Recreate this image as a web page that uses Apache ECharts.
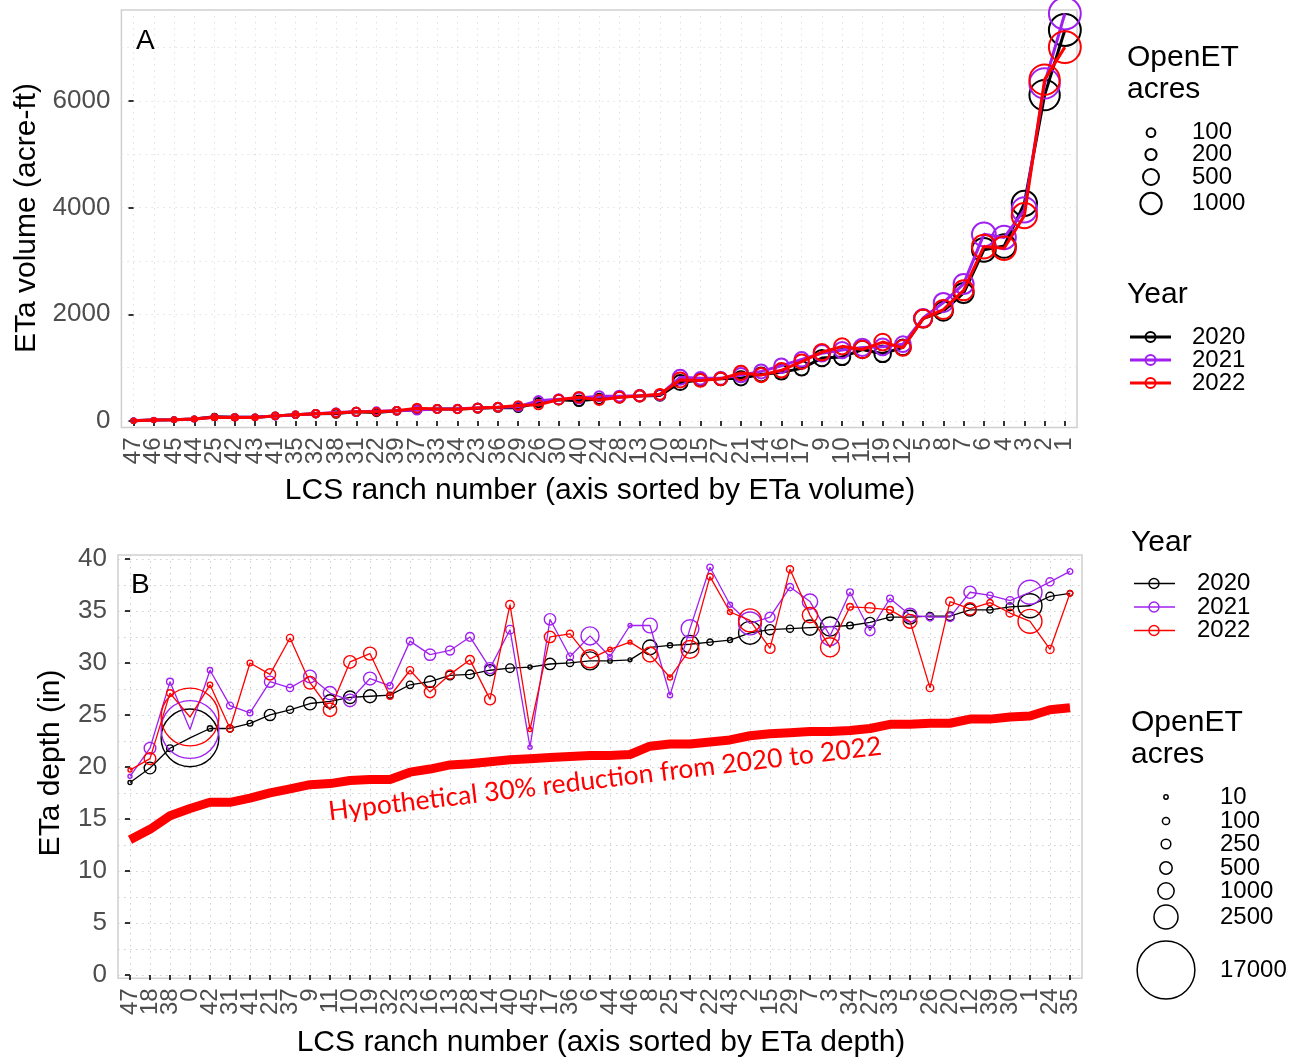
<!DOCTYPE html>
<html><head><meta charset="utf-8">
<script src="https://cdn.jsdelivr.net/npm/echarts@6/dist/echarts.min.js"></script>
<style>html,body{margin:0;padding:0;background:#fff}#c{width:1302px;height:1059px}</style>
</head><body><div id="c"></div>
<script>
// ---------------- data ----------------
const years = ['2020', '2021', '2022'];
const yearColors = ['#000000', '#A020F0', '#FF0000'];

// Panel A: ranches sorted by ETa volume
const catsA = [47,46,45,44,25,42,43,41,35,32,38,31,22,39,37,33,34,23,36,29,26,30,40,24,28,13,20,18,15,27,21,14,16,17,9,10,11,19,12,5,8,7,6,4,3,2,1];
const volA2020 = [6,17,25,37,80,68,68,94,119,137,140,172,160,190,212,225,225,240,255,250,345,400,380,415,450,470,480,720,770,790,800,870,912,987,1180,1200,1340,1260,1380,1920,2060,2400,3210,3280,4080,6110,7330];
const volA2021 = [8,19,25,37,70,70,68,92,119,137,160,172,185,192,205,225,228,245,260,268,380,410,430,465,465,475,490,820,800,800,860,930,1037,1156,1270,1330,1380,1390,1440,1930,2220,2570,3500,3440,3960,6330,7640];
const volA2022 = [6,18,25,38,72,66,66,96,119,137,150,175,172,192,240,225,222,242,258,290,305,400,445,395,445,470,500,770,760,790,900,860,950,1112,1290,1400,1340,1480,1370,1920,2090,2450,3270,3240,3850,6400,7010];

// Panel B: ranches sorted by ETa depth
const catsB = [47,18,38,0,42,31,41,21,37,9,11,10,19,32,23,16,13,28,14,40,45,17,36,6,44,46,8,25,4,22,43,2,15,29,7,3,34,27,33,5,26,20,12,39,30,1,24,35];
const depB2020 = [18.5,19.9,21.8,22.8,23.7,23.7,24.2,25.0,25.5,26.1,26.3,26.7,26.8,26.9,27.9,28.2,28.8,28.9,29.3,29.5,29.6,29.9,30.0,30.2,30.2,30.3,31.5,31.7,31.8,32.0,32.2,32.9,33.2,33.3,33.4,33.5,33.6,33.9,34.4,34.4,34.5,34.5,35.1,35.1,35.4,35.5,36.4,36.7];
const depB2021 = [19.1,21.8,28.2,23.6,29.3,25.9,25.2,28.2,27.6,28.7,27.1,26.4,28.5,27.8,32.1,30.8,31.2,32.5,29.5,33.2,21.9,34.2,30.6,32.6,30.6,33.6,33.6,26.9,33.3,39.2,35.6,33.8,34.4,37.3,35.9,32.6,36.8,33.1,36.2,34.6,34.4,34.4,36.8,36.5,36.0,36.8,37.8,38.8];
const depB2022 = [19.7,20.8,27.1,24.8,27.9,23.7,30.0,28.9,32.4,28.1,25.5,30.1,30.9,26.8,29.3,27.2,28.9,30.3,26.5,35.6,23.6,32.5,32.8,30.4,31.3,32.0,30.8,28.6,31.3,38.3,34.9,34.1,31.4,39.0,34.6,31.5,35.4,35.3,35.1,34.0,27.6,35.9,35.2,35.8,34.8,34.0,31.3,36.7];
const hypB = [13.0,14.0,15.3,16.0,16.6,16.6,17.0,17.5,17.9,18.3,18.4,18.7,18.8,18.8,19.5,19.8,20.2,20.3,20.5,20.7,20.8,20.9,21.0,21.1,21.1,21.2,22.0,22.2,22.2,22.4,22.6,23.0,23.2,23.3,23.4,23.4,23.5,23.7,24.1,24.1,24.2,24.2,24.6,24.6,24.8,24.9,25.5,25.7];

// OpenET acres by ranch number (index = ranch number 0..47)
const acres = [17000,2480,2230,1470,1240,670,1280,860,780,530,520,610,480,200,360,280,395,395,425,555,175,380,64,105,150,25,115,285,190,95,135,86,58,77,79,37,98,100,83,64,175,43,31,23,12,8,5,6];

// axis ticks / legend breaks
const yTicksA = [0, 2000, 4000, 6000];
const yGridA = [0, 1000, 2000, 3000, 4000, 5000, 6000, 7000];
const yTicksB = [0, 5, 10, 15, 20, 25, 30, 35, 40];
const yGridB = [0, 2.5, 5, 7.5, 10, 12.5, 15, 17.5, 20, 22.5, 25, 27.5, 30, 32.5, 35, 37.5, 40];
const sizeBreaksA = [100, 200, 500, 1000];
const sizeBreaksB = [10, 100, 250, 500, 1000, 2500, 17000];

// ---------------- chart ----------------
const FONT = "'Liberation Sans', Arial, sans-serif";
const TICKCOL = '#4d4d4d';
function sizeA(a) { return 3 + 0.58 * Math.sqrt(a); }
function sizeB(a) { return 3 + 0.42 * Math.sqrt(a); }

const idxA = catsA.map((_, i) => i);
const idxB = catsB.map((_, i) => i);
const volA = [volA2020, volA2021, volA2022];
const depB = [depB2020, depB2021, depB2022];

// Labels are split over two coincident axes (even / odd positions) so that
// ECharts' min/max overlap rule does not drop any of the densely packed labels.
function xAxisFor(gridIndex, cats, idx, parity, primary) {
  const labIdx = idx.filter(i => i % 2 === parity);
  return {
    type: 'value', gridIndex: gridIndex, min: -0.6, max: cats.length - 0.4, position: 'bottom',
    axisLine: { show: false },
    axisTick: { show: primary, customValues: primary ? idx : labIdx, length: 5, lineStyle: { color: '#333', width: 2 } },
    axisLabel: { customValues: labIdx, rotate: 90, margin: 10, fontSize: 24, color: TICKCOL, fontFamily: FONT,
      showMinLabel: true, showMaxLabel: true, hideOverlap: false,
      formatter: v => String(cats[Math.round(v)]) },
    splitLine: { show: primary, lineStyle: { color: gridIndex === 0 ? '#e2e2e2' : '#cfcfcf', width: 1, type: [1.5, 4.5] } }
  };
}
function yMain(gridIndex, min, max, ticks) {
  return {
    type: 'value', gridIndex: gridIndex, min: min, max: max, position: 'left',
    axisLine: { show: false },
    axisTick: { show: true, customValues: ticks, length: 5, lineStyle: { color: '#333', width: 2 } },
    axisLabel: { customValues: ticks, margin: 11, fontSize: 26, color: TICKCOL, fontFamily: FONT,
      showMinLabel: true, showMaxLabel: true,
      formatter: v => String(v) },
    splitLine: { show: false }
  };
}
function yGrid(gridIndex, min, max, vals, col) {
  return {
    type: 'value', gridIndex: gridIndex, min: min, max: max, position: 'right',
    axisLine: { show: false },
    axisTick: { show: false, customValues: vals },
    axisLabel: { show: false, customValues: vals },
    splitLine: { show: true, lineStyle: { color: col, width: 1, type: [1.5, 4.5] } }
  };
}

const series = [];
years.forEach((y, k) => {
  series.push({
    name: 'A' + y, type: 'line', xAxisIndex: 0, yAxisIndex: 0,
    data: volA[k].map((v, i) => [i, v]),
    symbol: 'circle',
    symbolSize: val => sizeA(acres[catsA[val[0]]]),
    lineStyle: { color: yearColors[k], width: 3 },
    itemStyle: { color: 'rgba(0,0,0,0)', borderColor: yearColors[k], borderWidth: 2 },
    z: 3 + k, clip: false, animation: false, emphasis: { disabled: true }
  });
});
series.push({
  name: 'hyp', type: 'line', xAxisIndex: 2, yAxisIndex: 2,
  data: hypB.map((v, i) => [i, v]), symbol: 'none',
  lineStyle: { color: '#FF0000', width: 9 }, z: 2, animation: false, emphasis: { disabled: true }
});
years.forEach((y, k) => {
  series.push({
    name: 'B' + y, type: 'line', xAxisIndex: 2, yAxisIndex: 2,
    data: depB[k].map((v, i) => [i, v]),
    symbol: 'circle',
    symbolSize: val => sizeB(acres[catsB[val[0]]]),
    lineStyle: { color: yearColors[k], width: 1.3 },
    itemStyle: { color: 'rgba(0,0,0,0)', borderColor: yearColors[k], borderWidth: 1.4 },
    z: 3 + k, clip: false, animation: false, emphasis: { disabled: true }
  });
});

// ---------- graphic: titles, labels, legends ----------
const g = [];
function txt(x, y, s, size, opts) {
  opts = opts || {};
  g.push({ type: 'text', x: x, y: y, rotation: opts.rot || 0, z: 100,
    style: { text: s, font: (opts.weight || 'normal') + ' ' + size + 'px ' + (opts.family || FONT),
      fill: opts.color || '#000', textAlign: opts.align || 'left', textVerticalAlign: 'middle' } });
}
function circ(cx, cy, d, col, lw) {
  g.push({ type: 'circle', z: 100, shape: { cx: cx, cy: cy, r: d / 2 },
    style: { fill: 'none', stroke: col, lineWidth: lw } });
}
function seg(x1, x2, y, col, lw) {
  g.push({ type: 'line', z: 100, shape: { x1: x1, y1: y, x2: x2, y2: y }, style: { stroke: col, lineWidth: lw } });
}

// axis titles
txt(27, 218, 'ETa volume (acre-ft)', 30, { rot: Math.PI / 2, align: 'center' });
txt(600, 491, 'LCS ranch number (axis sorted by ETa volume)', 30, { align: 'center' });
txt(51, 763, 'ETa depth (in)', 30, { rot: Math.PI / 2, align: 'center' });
txt(601, 1043, 'LCS ranch number (axis sorted by ETa depth)', 30, { align: 'center' });
// panel tags
txt(136, 41, 'A', 28);
txt(131, 585, 'B', 28);
// annotation
txt(605, 779, 'Hypothetical 30% reduction from 2020 to 2022', 26.5,
  { rot: 0.118, align: 'center', color: '#FF0000', family: "Lato, 'Open Sans', sans-serif" });

// Legend A: OpenET acres
txt(1127, 58, 'OpenET', 30);
txt(1127, 90, 'acres', 30);
const legAy = [132.7, 154.5, 177, 203.5];
sizeBreaksA.forEach((v, k) => {
  circ(1151, legAy[k], sizeA(v), '#000', 2);
  txt(1192, legAy[k], String(v), 24);
});
// Legend A: Year
txt(1127, 295, 'Year', 30);
const legAyr = [337, 360, 383];
years.forEach((y, k) => {
  seg(1130, 1171, legAyr[k], yearColors[k], 3);
  circ(1150.5, legAyr[k], 10, yearColors[k], 2);
  txt(1192, legAyr[k], y, 24);
});
// Legend B: Year
txt(1131, 543, 'Year', 30);
const legByr = [583.5, 607, 630.5];
years.forEach((y, k) => {
  seg(1134, 1175, legByr[k], yearColors[k], 1.3);
  circ(1154, legByr[k], 10, yearColors[k], 1.4);
  txt(1197, legByr[k], y, 24);
});
// Legend B: OpenET acres
txt(1131, 723, 'OpenET', 30);
txt(1131, 755, 'acres', 30);
const legBy = [797, 821, 844, 868, 891, 917, 970];
sizeBreaksB.forEach((v, k) => {
  circ(1166, legBy[k], sizeB(v), '#000', 1.5);
  txt(1220, legBy[k], String(v), 24);
});

const option = {
  backgroundColor: '#ffffff',
  animation: false,
  textStyle: { fontFamily: FONT },
  grid: [
    { left: 121.4, right: 225, top: 10, height: 417.5, show: true, borderColor: '#d0d0d0', borderWidth: 1.5, backgroundColor: 'transparent' },
    { left: 118, right: 220, top: 555, height: 423.3, show: true, borderColor: '#d0d0d0', borderWidth: 1.5, backgroundColor: 'transparent' }
  ],
  xAxis: [
    xAxisFor(0, catsA, idxA, 0, true),
    xAxisFor(0, catsA, idxA, 1, false),
    xAxisFor(1, catsB, idxB, 0, true),
    xAxisFor(1, catsB, idxB, 1, false)
  ],
  yAxis: [
    yMain(0, -122, 7706, yTicksA),
    yGrid(0, -122, 7706, yGridA, '#e2e2e2'),
    yMain(1, -0.32, 40.38, yTicksB),
    yGrid(1, -0.32, 40.38, yGridB, '#cfcfcf')
  ],
  series: series,
  graphic: g
};
const chart = echarts.init(document.getElementById('c'), null, { renderer: 'canvas' });
chart.setOption(option);
</script>
</body></html>
